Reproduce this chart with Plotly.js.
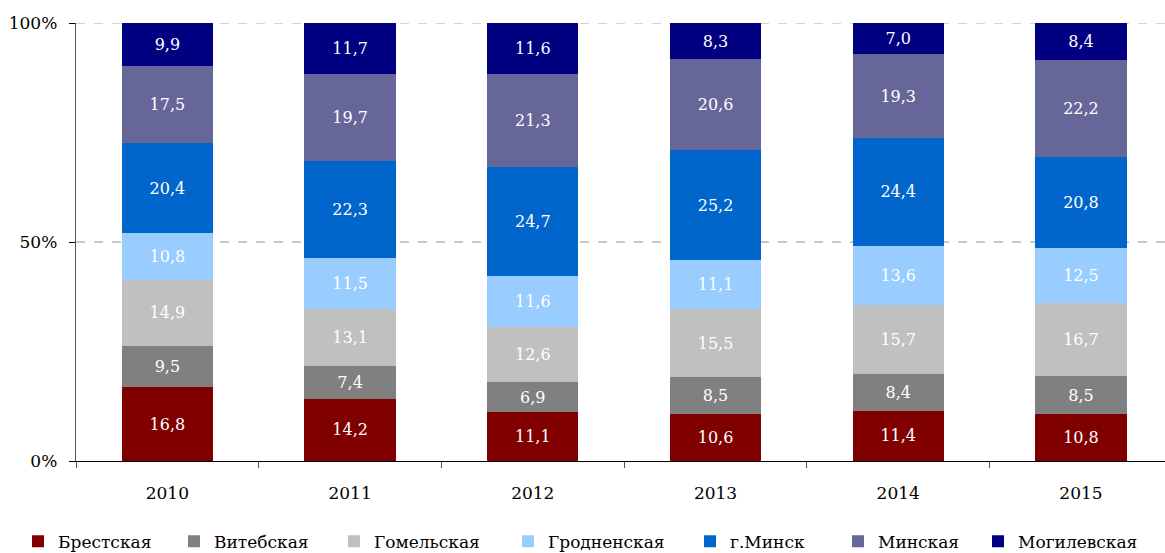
<!DOCTYPE html>
<html>
<head>
<meta charset="utf-8">
<script src="https://cdn.plot.ly/plotly-3.0.1.min.js"></script>
<style>html,body{margin:0;padding:0;overflow:hidden;background:#fff}</style>
</head>
<body>
<div id="chart" style="width:1165px;height:553px"></div>
<script>
const years = ['2010','2011','2012','2013','2014','2015'];
const brest   = [16.8, 14.2, 11.1, 10.6, 11.4, 10.8];
const vitebsk = [9.5, 7.4, 6.9, 8.5, 8.4, 8.5];
const gomel   = [14.9, 13.1, 12.6, 15.5, 15.7, 16.7];
const grodno  = [10.8, 11.5, 11.6, 11.1, 13.6, 12.5];
const minskCity = [20.4, 22.3, 24.7, 25.2, 24.4, 20.8];
const minskReg  = [17.5, 19.7, 21.3, 20.6, 19.3, 22.2];
const mogilev   = [9.9, 11.7, 11.6, 8.3, 7.0, 8.4];
const yTicks = [0, 50, 100];
const yTickText = ['0%', '50%', '100%'];

const series = [
  {name: 'Брестская', y: brest, color: '#800000'},
  {name: 'Витебская', y: vitebsk, color: '#808080'},
  {name: 'Гомельская', y: gomel, color: '#C0C0C0'},
  {name: 'Гродненская', y: grodno, color: '#99CCFF'},
  {name: 'г.Минск', y: minskCity, color: '#0066CC'},
  {name: 'Минская', y: minskReg, color: '#666699'},
  {name: 'Могилевская', y: mogilev, color: '#000080'}
];

const W = 1165, H = 553, ML = 76, MT = 23, MB = 92;
const plotW = W - ML, plotH = H - MT - MB;
// legend symbol centres in pixels
const legendCentres = [40, 196, 356, 530, 712, 860, 1000];

const font = 'DejaVu Serif';
const traces = series.map((s, i) => ({
  type: 'bar',
  name: s.name,
  x: years,
  y: s.y,
  legend: i === 0 ? 'legend' : 'legend' + (i + 1),
  marker: {color: s.color, line: {width: 0}},
  text: s.y.map(v => v.toFixed(1).replace('.', ',')),
  textposition: 'inside',
  insidetextanchor: 'middle',
  textangle: 0,
  constraintext: 'none',
  textfont: {family: font, size: 16, color: '#ffffff'},
  hoverinfo: 'none'
}));

const layout = {
  width: W, height: H,
  margin: {l: ML, r: 0, t: MT, b: MB, autoexpand: false},
  barmode: 'stack',
  barnorm: 'percent',
  bargap: 0.5,
  paper_bgcolor: '#ffffff',
  plot_bgcolor: '#ffffff',
  font: {family: font, size: 17, color: '#000'},
  showlegend: true,
  xaxis: {
    type: 'category',
    range: [-0.5, 5.46],
    showline: true, linecolor: '#000', linewidth: 1.3,
    ticks: 'outside', tickson: 'boundaries', ticklen: 6, tickcolor: '#555',
    ticklabelstandoff: 16,
    showgrid: false, zeroline: false,
    tickfont: {family: font, size: 17, color: '#000'}
  },
  yaxis: {
    range: [0, 100],
    tickvals: yTicks, ticktext: yTickText,
    showline: true, linecolor: '#555', linewidth: 1.3,
    ticks: 'outside', ticklen: 6, tickcolor: '#000',
    ticklabelstandoff: 8,
    showgrid: true, gridcolor: '#c8c8c8', griddash: 'dash', gridwidth: 1.3,
    zeroline: false,
    tickfont: {family: font, size: 17, color: '#000'}
  },
  shapes: [{
    type: 'line', xref: 'paper', x0: 0, x1: 1, yref: 'y', y0: yTicks[2], y1: yTicks[2],
    line: {color: '#c8c8c8', width: 1.3, dash: 'dash'}, layer: 'below'
  }]
};

legendCentres.forEach((c, i) => {
  const key = i === 0 ? 'legend' : 'legend' + (i + 1);
  layout[key] = {
    orientation: 'h',
    x: (c - 22 - ML) / plotW, xanchor: 'left',
    y: -0.143, yanchor: 'top',
    font: {family: font, size: 17, color: '#000'},
    itemwidth: 30,
    bgcolor: 'rgba(0,0,0,0)'
  };
});

Plotly.newPlot('chart', traces, layout, {displayModeBar: false, staticPlot: true});
</script>
</body>
</html>
